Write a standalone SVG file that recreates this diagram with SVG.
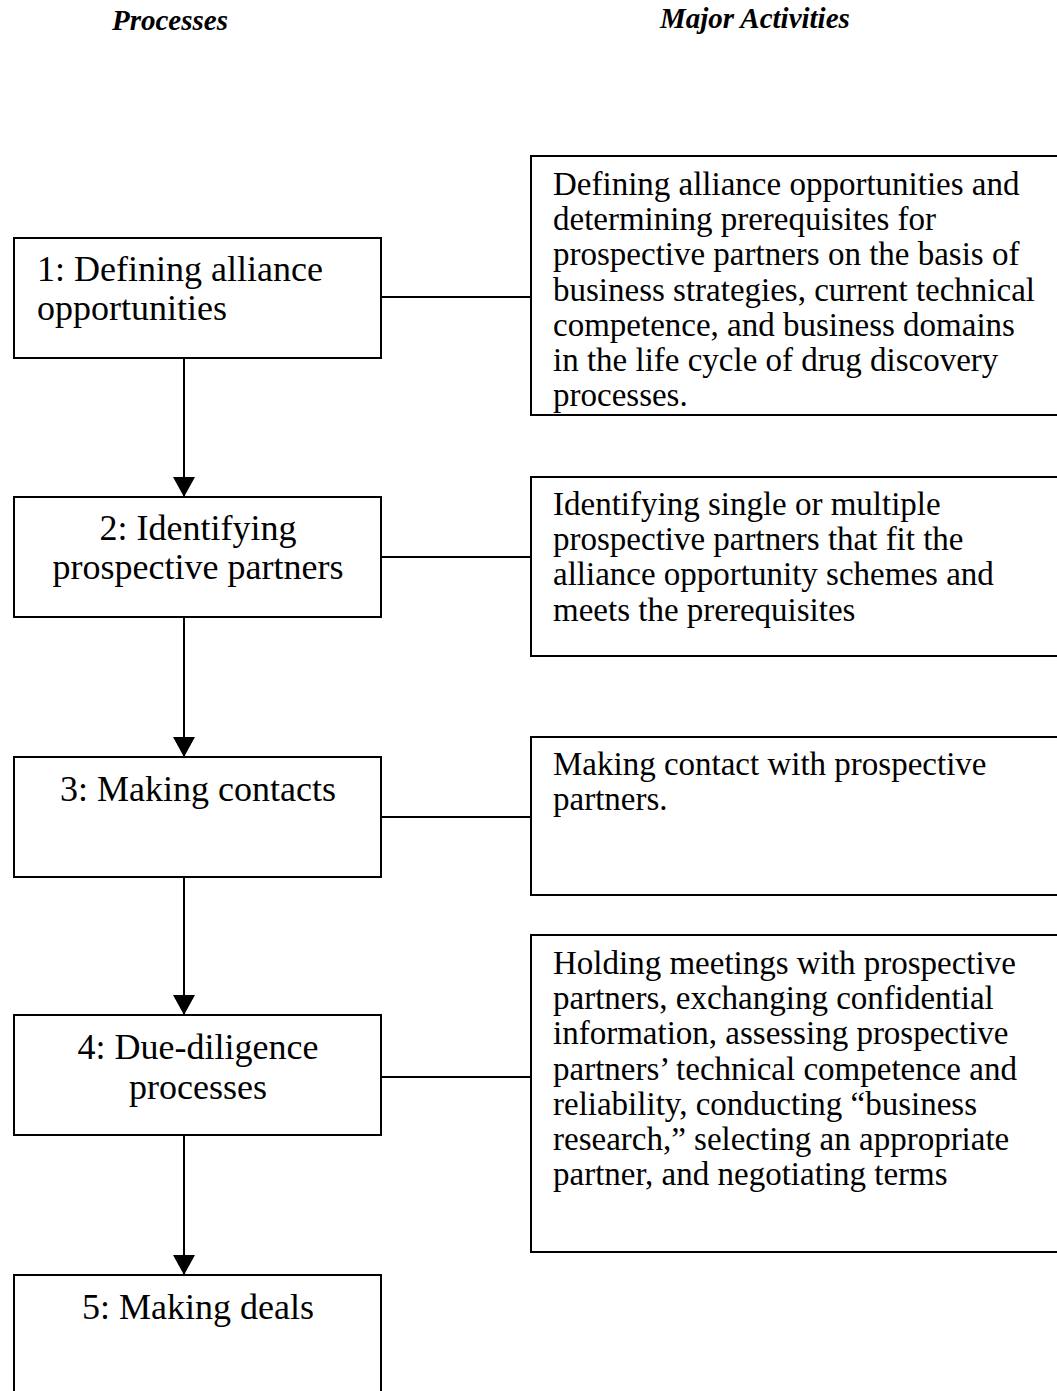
<svg xmlns="http://www.w3.org/2000/svg" width="1057" height="1391" viewBox="0 0 1057 1391">
<style>
.box{fill:#fff;stroke:#000;stroke-width:2}
.t{font-family:"Liberation Serif","Times New Roman",serif;font-size:33px;fill:#000}
.l{font-family:"Liberation Serif","Times New Roman",serif;font-size:36px;fill:#000}
.c{text-anchor:middle}
.h{font-family:"Liberation Serif","Times New Roman",serif;font-size:29px;font-weight:bold;font-style:italic;fill:#000}
.ln{stroke:#000;stroke-width:2;fill:none}
</style>
<defs>
<marker id="ah" markerWidth="20" markerHeight="22" refX="20" refY="11" orient="auto" markerUnits="userSpaceOnUse" viewBox="0 0 20 22">
<path d="M0,0 L20,11 L0,22 Z" fill="#000"/>
</marker>
<clipPath id="clip1"><rect x="531" y="156" width="530" height="257"/></clipPath>
</defs>
<rect width="1057" height="1391" fill="#fff"/>
<g id="headers">
<text class="h" x="112" y="30">Processes</text>
<text class="h" x="660" y="28">Major Activities</text>
</g>
<g id="connectors">
<line class="ln" x1="184" y1="358" x2="184" y2="497" marker-end="url(#ah)"/>
<line class="ln" x1="184" y1="617" x2="184" y2="757" marker-end="url(#ah)"/>
<line class="ln" x1="184" y1="877" x2="184" y2="1015" marker-end="url(#ah)"/>
<line class="ln" x1="184" y1="1135" x2="184" y2="1275" marker-end="url(#ah)"/>
<line class="ln" x1="381" y1="297" x2="531" y2="297"/>
<line class="ln" x1="381" y1="557" x2="531" y2="557"/>
<line class="ln" x1="381" y1="817" x2="531" y2="817"/>
<line class="ln" x1="381" y1="1077" x2="531" y2="1077"/>
</g>
<g id="p1">
<rect class="box" x="14" y="238" width="367" height="120"/>
<text class="l" x="37" y="281">1: Defining alliance</text>
<text class="l" x="37" y="320">opportunities</text>
</g>
<g id="p2">
<rect class="box" x="14" y="497" width="367" height="120"/>
<text class="l c" x="198" y="540">2: Identifying</text>
<text class="l c" x="198" y="579">prospective partners</text>
</g>
<g id="p3">
<rect class="box" x="14" y="757" width="367" height="120"/>
<text class="l c" x="198" y="801">3: Making contacts</text>
</g>
<g id="p4">
<rect class="box" x="14" y="1015" width="367" height="120"/>
<text class="l c" x="198" y="1059">4: Due-diligence</text>
<text class="l c" x="198" y="1099">processes</text>
</g>
<g id="p5">
<rect class="box" x="14" y="1275" width="367" height="130"/>
<text class="l c" x="198" y="1319">5: Making deals</text>
</g>
<g id="a1">
<rect class="box" x="531" y="156" width="540" height="259"/>
<g clip-path="url(#clip1)">
<text class="t" x="553" y="195">Defining alliance opportunities and</text>
<text class="t" x="553" y="230">determining prerequisites for</text>
<text class="t" x="553" y="265">prospective partners on the basis of</text>
<text class="t" x="553" y="301">business strategies, current technical</text>
<text class="t" x="553" y="336">competence, and business domains</text>
<text class="t" x="553" y="371">in the life cycle of drug discovery</text>
<text class="t" x="553" y="406">processes.</text>
</g>
</g>
<g id="a2">
<rect class="box" x="531" y="477" width="540" height="179"/>
<text class="t" x="553" y="515">Identifying single or multiple</text>
<text class="t" x="553" y="550">prospective partners that fit the</text>
<text class="t" x="553" y="585">alliance opportunity schemes and</text>
<text class="t" x="553" y="621">meets the prerequisites</text>
</g>
<g id="a3">
<rect class="box" x="531" y="737" width="540" height="158"/>
<text class="t" x="553" y="775">Making contact with prospective</text>
<text class="t" x="553" y="810">partners.</text>
</g>
<g id="a4">
<rect class="box" x="531" y="935" width="540" height="317"/>
<text class="t" x="553" y="974">Holding meetings with prospective</text>
<text class="t" x="553" y="1009">partners, exchanging confidential</text>
<text class="t" x="553" y="1044">information, assessing prospective</text>
<text class="t" x="553" y="1080">partners’ technical competence and</text>
<text class="t" x="553" y="1115">reliability, conducting “business</text>
<text class="t" x="553" y="1150">research,” selecting an appropriate</text>
<text class="t" x="553" y="1185">partner, and negotiating terms</text>
</g>
</svg>
